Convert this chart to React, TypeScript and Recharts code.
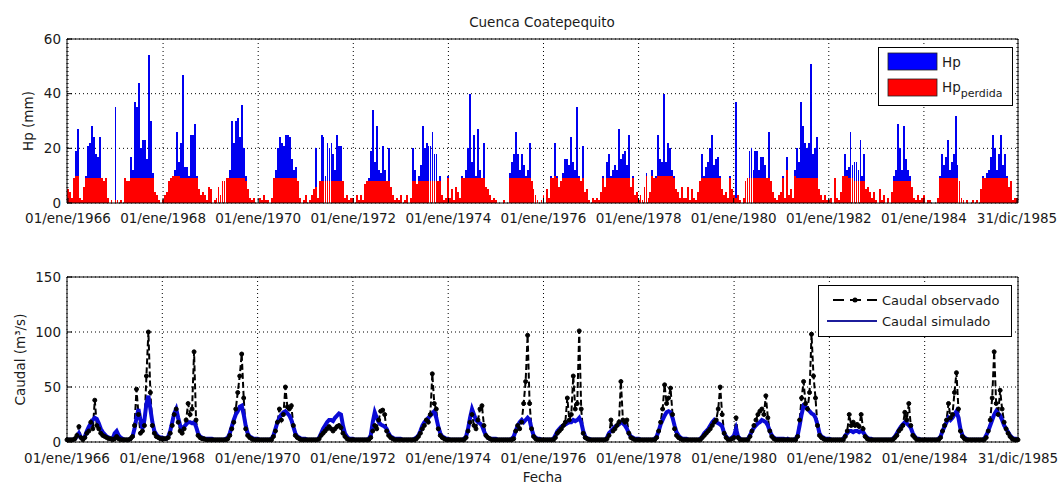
import { ComposedChart, Bar, Line, XAxis, YAxis, CartesianGrid } from "recharts";

// half-month steps, 24 per year, 1966..1985
const tickIdx = [0, 48, 96, 144, 192, 240, 288, 336, 384, 432, 479];
const tickLabels = [
  "01/ene/1966", "01/ene/1968", "01/ene/1970", "01/ene/1972", "01/ene/1974", "01/ene/1976",
  "01/ene/1978", "01/ene/1980", "01/ene/1982", "01/ene/1984", "31/dic/1985",
];
const hpTicks = [0, 20, 40, 60];
const flowTicks = [0, 50, 100, 150];

// precipitacion (mm)
const hp = [
  5, 4, 2, 9, 19, 27, 2, 1, 6, 10, 21, 22, 28, 24, 18, 17, 24, 9, 8, 9, 2, 0, 1, 0, // 1966
  35, 1, 0, 1, 0, 9, 8, 8, 17, 12, 37, 35, 44, 20, 23, 23, 16, 54, 30, 11, 4, 3, 1, 0, // 1967
  1, 3, 4, 8, 9, 10, 12, 26, 15, 22, 47, 13, 13, 10, 25, 25, 29, 10, 5, 3, 4, 3, 1, 6, // 1968
  5, 0, 1, 2, 6, 3, 8, 8, 9, 9, 12, 30, 22, 30, 31, 24, 36, 20, 10, 5, 2, 1, 2, 0, // 1969
  0, 2, 1, 3, 1, 1, 0, 2, 9, 12, 20, 24, 22, 21, 25, 25, 24, 16, 12, 13, 8, 2, 0, 1, // 1970
  3, 0, 1, 3, 5, 20, 2, 8, 25, 24, 10, 22, 20, 22, 18, 12, 25, 21, 21, 8, 2, 3, 1, 2, // 1971
  2, 0, 3, 1, 3, 1, 7, 8, 9, 19, 34, 15, 28, 12, 11, 21, 12, 8, 20, 6, 3, 1, 2, 1, // 1972
  3, 0, 1, 3, 0, 2, 20, 12, 7, 10, 14, 28, 20, 22, 21, 21, 26, 18, 18, 8, 10, 3, 1, 2, // 1973
  10, 2, 5, 1, 6, 4, 2, 10, 9, 12, 20, 40, 15, 25, 10, 27, 12, 9, 22, 6, 5, 3, 1, 2, // 1974
  1, 0, 0, 0, 1, 0, 0, 11, 15, 18, 26, 18, 12, 18, 14, 10, 12, 22, 8, 5, 3, 1, 0, 1, // 1975
  3, 0, 5, 2, 10, 9, 22, 10, 6, 8, 11, 16, 16, 14, 24, 15, 12, 35, 10, 8, 21, 4, 5, 1, // 1976
  0, 2, 1, 2, 1, 4, 10, 6, 15, 18, 10, 12, 14, 12, 27, 16, 18, 19, 14, 25, 6, 10, 3, 4, // 1977
  1, 3, 1, 6, 11, 2, 4, 12, 9, 10, 25, 16, 15, 40, 15, 22, 20, 12, 10, 5, 4, 2, 6, 2, // 1978
  2, 6, 1, 5, 2, 1, 4, 8, 18, 10, 13, 15, 20, 25, 14, 16, 17, 10, 5, 3, 4, 2, 10, 5, // 1979
  3, 37, 3, 1, 0, 2, 8, 9, 19, 20, 12, 19, 19, 12, 17, 17, 14, 9, 26, 8, 4, 2, 1, 3, // 1980
  4, 10, 2, 17, 3, 5, 2, 12, 20, 15, 37, 28, 22, 20, 22, 51, 18, 20, 24, 5, 3, 1, 3, 1, // 1981
  1, 2, 0, 9, 2, 1, 4, 10, 18, 12, 13, 26, 14, 15, 15, 12, 23, 10, 18, 5, 6, 4, 2, 4, // 1982
  1, 0, 5, 1, 3, 0, 2, 0, 4, 10, 12, 29, 20, 12, 28, 16, 12, 10, 6, 2, 1, 3, 1, 2, // 1983
  3, 0, 1, 1, 0, 0, 0, 2, 10, 18, 14, 17, 23, 12, 15, 18, 32, 14, 8, 2, 1, 0, 1, 0, // 1984
  0, 1, 0, 1, 0, 5, 10, 9, 11, 12, 17, 25, 20, 12, 18, 25, 14, 18, 10, 6, 8, 1, 2, 2, // 1985
];

// precipitacion perdida (mm)
const hpLoss = [
  5, 4, 2, 9, 10, 10, 2, 1, 6, 9, 9, 9, 9, 9, 9, 9, 9, 9, 8, 9, 2, 0, 1, 0,
  1, 1, 0, 1, 0, 9, 8, 8, 9, 9, 9, 9, 9, 9, 9, 9, 9, 9, 9, 9, 4, 3, 1, 0,
  1, 3, 4, 8, 9, 10, 10, 10, 10, 9, 9, 9, 9, 9, 9, 9, 9, 9, 5, 3, 4, 3, 1, 6,
  5, 0, 1, 2, 6, 3, 8, 8, 9, 9, 9, 9, 9, 9, 9, 9, 9, 9, 8, 5, 2, 1, 2, 0,
  0, 2, 1, 3, 1, 1, 0, 2, 9, 9, 9, 9, 9, 9, 9, 9, 9, 9, 9, 9, 8, 2, 0, 1,
  3, 0, 1, 3, 5, 6, 2, 8, 8, 8, 8, 8, 8, 8, 8, 8, 8, 8, 8, 8, 2, 3, 1, 2,
  2, 0, 3, 1, 3, 1, 7, 8, 8, 8, 8, 8, 8, 8, 8, 8, 8, 8, 8, 6, 3, 1, 2, 1,
  3, 0, 1, 3, 0, 2, 8, 8, 7, 8, 8, 8, 8, 8, 8, 8, 8, 8, 8, 8, 8, 3, 1, 2,
  9, 2, 5, 1, 6, 4, 2, 9, 9, 9, 9, 9, 9, 9, 9, 9, 9, 9, 9, 6, 5, 3, 1, 2,
  1, 0, 0, 0, 1, 0, 0, 9, 9, 9, 9, 9, 9, 9, 9, 9, 9, 9, 8, 5, 3, 1, 0, 1,
  3, 0, 5, 2, 9, 9, 10, 9, 6, 8, 9, 9, 9, 9, 9, 9, 9, 9, 9, 8, 9, 4, 5, 1,
  0, 2, 1, 2, 1, 4, 9, 6, 9, 9, 9, 9, 9, 9, 9, 9, 9, 9, 9, 9, 6, 9, 3, 4,
  1, 3, 1, 6, 10, 2, 4, 10, 9, 9, 10, 10, 10, 10, 10, 10, 10, 10, 9, 5, 4, 2, 6, 2,
  2, 6, 1, 5, 2, 1, 4, 8, 9, 9, 9, 9, 9, 9, 9, 9, 9, 9, 5, 3, 4, 2, 9, 5,
  3, 2, 3, 1, 0, 2, 8, 9, 9, 9, 9, 9, 9, 9, 9, 9, 9, 9, 9, 8, 4, 2, 1, 3,
  4, 9, 2, 12, 3, 5, 2, 10, 9, 9, 9, 9, 9, 9, 9, 9, 9, 9, 9, 5, 3, 1, 3, 1,
  1, 2, 0, 9, 2, 1, 4, 10, 10, 10, 9, 9, 9, 8, 8, 8, 8, 8, 8, 5, 6, 4, 2, 4,
  1, 0, 5, 1, 3, 0, 2, 0, 4, 8, 8, 8, 8, 8, 8, 8, 8, 8, 6, 2, 1, 3, 1, 2,
  3, 0, 1, 1, 0, 0, 0, 2, 9, 9, 9, 9, 9, 9, 9, 9, 9, 9, 8, 2, 1, 0, 1, 0,
  0, 1, 0, 1, 0, 5, 9, 9, 9, 9, 9, 9, 9, 9, 9, 9, 9, 9, 9, 6, 8, 1, 2, 2,
];

// caudal observado (m3/s)
const qObs = [
  2, 2, 2, 2, 3, 6, 14, 4, 2, 4, 8, 10, 18, 12, 38, 15, 12, 8, 6, 5, 4, 3, 3, 2,
  3, 5, 3, 2, 2, 2, 2, 2, 3, 5, 15, 48, 25, 8, 10, 15, 60, 100, 45, 15, 8, 5, 4, 3,
  3, 3, 3, 4, 8, 15, 25, 30, 18, 10, 8, 12, 20, 35, 25, 30, 82, 20, 6, 4, 3, 3, 2, 2,
  2, 2, 2, 2, 2, 2, 2, 2, 2, 3, 6, 12, 18, 30, 45, 60, 80, 40, 12, 6, 4, 3, 2, 2,
  2, 2, 2, 2, 2, 2, 2, 2, 5, 10, 18, 30, 20, 25, 50, 32, 30, 33, 15, 6, 4, 3, 2, 2,
  2, 2, 2, 2, 2, 2, 2, 3, 6, 8, 10, 12, 14, 12, 10, 12, 14, 15, 13, 8, 5, 3, 2, 2,
  2, 2, 2, 2, 2, 2, 2, 2, 2, 4, 10, 15, 12, 20, 28, 29, 25, 10, 6, 4, 3, 2, 2, 2,
  2, 2, 2, 2, 2, 2, 2, 2, 3, 5, 8, 12, 15, 20, 18, 25, 62, 35, 30, 12, 6, 4, 3, 2,
  2, 2, 2, 2, 2, 2, 2, 2, 2, 4, 10, 18, 25, 15, 12, 20, 30, 33, 15, 6, 4, 3, 2, 2,
  2, 2, 2, 2, 2, 2, 2, 2, 2, 3, 10, 15, 12, 18, 35, 55, 97, 35, 12, 5, 3, 2, 2, 2,
  2, 2, 2, 2, 2, 2, 4, 8, 10, 12, 15, 18, 40, 20, 25, 60, 30, 35, 101, 30, 8, 4, 3, 2,
  2, 2, 2, 2, 2, 2, 2, 2, 3, 6, 20, 10, 12, 15, 18, 55, 20, 18, 20, 8, 4, 3, 2, 2,
  2, 2, 2, 2, 2, 2, 2, 2, 2, 4, 10, 18, 30, 52, 35, 40, 49, 25, 12, 6, 4, 3, 2, 2,
  2, 2, 2, 2, 2, 2, 2, 2, 4, 6, 8, 10, 12, 15, 18, 20, 30, 50, 25, 8, 4, 2, 2, 3,
  4, 22, 4, 2, 2, 2, 2, 2, 5, 10, 15, 20, 25, 28, 30, 25, 42, 22, 10, 5, 3, 2, 2, 2,
  2, 2, 2, 2, 2, 2, 2, 2, 5, 20, 40, 55, 35, 30, 45, 98, 60, 40, 15, 6, 4, 3, 2, 2,
  2, 2, 2, 2, 2, 2, 2, 2, 5, 10, 25, 15, 18, 15, 16, 14, 25, 12, 5, 3, 2, 2, 2, 2,
  2, 2, 2, 2, 2, 2, 2, 2, 2, 4, 6, 10, 12, 15, 27, 20, 35, 15, 6, 4, 2, 2, 2, 2,
  2, 2, 2, 2, 2, 2, 2, 2, 4, 10, 15, 20, 35, 22, 25, 45, 63, 30, 10, 5, 3, 2, 2, 2,
  2, 2, 2, 2, 2, 2, 2, 4, 10, 20, 40, 82, 35, 25, 47, 30, 18, 12, 8, 5, 3, 2, 2, 2,
];

// caudal simulado (m3/s)
const qSim = [
  2, 2, 2, 2, 3, 5, 8, 4, 3, 5, 10, 14, 17, 20, 22, 21, 17, 12, 9, 7, 5, 4, 3, 3,
  8, 10, 6, 4, 3, 2, 2, 2, 3, 5, 12, 22, 30, 20, 12, 20, 35, 42, 30, 18, 10, 7, 5, 4,
  4, 3, 3, 5, 10, 18, 26, 30, 22, 15, 12, 14, 16, 18, 18, 17, 18, 14, 8, 5, 4, 3, 3, 3,
  3, 3, 2, 2, 2, 2, 2, 2, 3, 4, 8, 14, 20, 25, 28, 32, 33, 25, 15, 8, 5, 4, 3, 3,
  3, 2, 2, 2, 2, 2, 2, 3, 6, 12, 18, 22, 25, 27, 28, 26, 24, 20, 14, 8, 5, 4, 3, 3,
  3, 2, 2, 2, 2, 2, 2, 4, 8, 12, 15, 18, 20, 20, 19, 22, 24, 26, 25, 15, 8, 5, 3, 3,
  3, 2, 2, 2, 2, 2, 2, 2, 3, 6, 18, 27, 22, 18, 16, 15, 14, 12, 8, 5, 4, 3, 3, 3,
  3, 2, 2, 2, 2, 2, 2, 3, 4, 6, 10, 15, 18, 20, 22, 24, 26, 28, 22, 14, 8, 5, 4, 3,
  3, 2, 2, 2, 2, 2, 2, 2, 3, 5, 12, 22, 30, 25, 20, 18, 17, 15, 10, 6, 4, 3, 3, 3,
  3, 2, 2, 2, 2, 2, 2, 2, 3, 5, 10, 15, 18, 20, 18, 20, 22, 20, 12, 6, 4, 3, 3, 2,
  2, 2, 2, 2, 2, 3, 6, 10, 12, 14, 15, 16, 17, 18, 18, 20, 19, 20, 22, 18, 10, 5, 3, 3,
  2, 2, 2, 2, 2, 2, 2, 2, 4, 8, 10, 12, 14, 15, 16, 18, 17, 15, 12, 8, 5, 4, 3, 3,
  3, 2, 2, 2, 2, 2, 2, 2, 3, 5, 10, 16, 20, 24, 27, 28, 27, 22, 15, 9, 6, 4, 3, 3,
  3, 2, 2, 2, 2, 2, 2, 3, 5, 8, 10, 12, 15, 18, 20, 18, 17, 16, 14, 8, 5, 3, 3, 4,
  6, 12, 5, 3, 2, 2, 2, 3, 6, 10, 13, 15, 17, 18, 20, 19, 18, 15, 10, 6, 4, 3, 3, 3,
  3, 3, 2, 3, 2, 2, 2, 3, 6, 15, 25, 33, 32, 30, 28, 26, 25, 22, 16, 8, 5, 4, 3, 3,
  3, 2, 2, 2, 2, 2, 2, 3, 6, 8, 10, 10, 9, 10, 10, 9, 10, 9, 6, 4, 3, 3, 2, 2,
  2, 2, 2, 2, 2, 2, 2, 2, 3, 5, 8, 11, 14, 16, 18, 17, 15, 13, 8, 5, 3, 3, 2, 2,
  2, 2, 2, 2, 2, 2, 2, 3, 5, 10, 14, 18, 22, 20, 22, 25, 28, 22, 12, 6, 4, 3, 2, 2,
  2, 2, 2, 2, 2, 2, 3, 6, 10, 15, 20, 25, 28, 26, 24, 20, 15, 12, 9, 6, 4, 3, 3, 2,
];

const rows = hp.map((v, i) => ({ t: i, hp: v, loss: hpLoss[i], obs: qObs[i], sim: qSim[i] }));

const font = "DejaVu Sans";
const tickStyle = { fontSize: 13.5, fontFamily: font, fill: "#1a1a1a" };
const labelStyle = { textAnchor: "middle" as const, fontSize: 13.5, fontFamily: font, fill: "#1a1a1a" };
const fmtDate = (v: number) => tickLabels[tickIdx.indexOf(v)] ?? "";

function Overlay() {
  return (
    <svg width={1061} height={484} style={{ position: "absolute", left: 0, top: 0, pointerEvents: "none" }}>
      <text x={542} y={27} textAnchor="middle" fontFamily={font} fontSize={13.5} fill="#1a1a1a">
        Cuenca Coatepequito
      </text>
      {/* leyenda superior */}
      <rect x={878.5} y={47.5} width={134} height={58} fill="#fff" stroke="#000" />
      <rect x={888} y={53} width={49} height={17} fill="#0000ff" stroke="#222" strokeWidth={0.8} />
      <rect x={888} y={79} width={49} height={17} fill="#ff0000" stroke="#222" strokeWidth={0.8} />
      <text x={942} y={67} fontFamily={font} fontSize={13.5} fill="#1a1a1a">Hp</text>
      <text x={942} y={92} fontFamily={font} fontSize={13.5} fill="#1a1a1a">
        Hp<tspan dy={5} fontSize={11}>perdida</tspan>
      </text>
      {/* leyenda inferior */}
      <rect x={818.5} y={285.5} width={193} height={51} fill="#fff" stroke="#000" />
      <line x1={833} y1={300} x2={877} y2={300} stroke="#000" strokeWidth={2} strokeDasharray="11 6" />
      <circle cx={855} cy={300} r={2.5} fill="#000" />
      <text x={882} y={305} fontFamily={font} fontSize={13} fill="#1a1a1a">Caudal observado</text>
      <line x1={827} y1={321} x2={877} y2={321} stroke="#1c1c9c" strokeWidth={2} />
      <text x={882} y={326} fontFamily={font} fontSize={13} fill="#1a1a1a">Caudal simulado</text>
    </svg>
  );
}

export default function App() {
  return (
    <div style={{ position: "absolute", left: 0, top: 0, width: 1061, height: 484, background: "#fff" }}>
      <div style={{ position: "absolute", left: 0, top: 0 }}>
        <ComposedChart
          width={1061}
          height={230}
          data={rows}
          margin={{ top: 38, right: 42, bottom: 0, left: 23 }}
          barCategoryGap={0}
          barGap={0}
        >
          <CartesianGrid xAxisId="bottom" yAxisId="left" stroke="#000" strokeDasharray="1 3" />
          <XAxis
            xAxisId="bottom"
            dataKey="t"
            type="category"
            ticks={tickIdx}
            interval={0}
            tickFormatter={fmtDate}
            tickSize={-5}
            tickMargin={15}
            height={27}
            stroke="#000"
            tick={tickStyle}
          />
          <XAxis xAxisId="loss" dataKey="t" type="category" hide />
          <XAxis
            xAxisId="top"
            orientation="top"
            dataKey="t"
            type="category"
            ticks={tickIdx}
            interval={0}
            tick={false}
            tickSize={-5}
            height={1}
            stroke="#000"
          />
          <YAxis
            yAxisId="left"
            domain={[0, 60]}
            ticks={hpTicks}
            interval={0}
            tickSize={-5}
            tickMargin={11}
            width={44}
            stroke="#000"
            tick={tickStyle}
            label={{ value: "Hp (mm)", angle: -90, position: "insideLeft", offset: 5, style: labelStyle }}
          />
          <YAxis
            yAxisId="right"
            orientation="right"
            domain={[0, 60]}
            ticks={hpTicks}
            interval={0}
            tick={false}
            tickSize={-5}
            width={1}
            stroke="#000"
          />
          <Bar
            xAxisId="bottom"
            yAxisId="left"
            dataKey="hp"
            fill="#0000f0"
            barSize={1.9}
            shapeRendering="crispEdges"
            isAnimationActive={false}
          />
          <Bar
            xAxisId="loss"
            yAxisId="left"
            dataKey="loss"
            fill="#ff0000"
            barSize={1.9}
            shapeRendering="crispEdges"
            isAnimationActive={false}
          />
        </ComposedChart>
      </div>
      <div style={{ position: "absolute", left: 0, top: 245 }}>
        <ComposedChart width={1061} height={239} data={rows} margin={{ top: 31, right: 42, bottom: 2, left: 15 }}>
          <CartesianGrid xAxisId="bottom" yAxisId="left" stroke="#000" strokeDasharray="1 3" />
          <XAxis
            xAxisId="bottom"
            dataKey="t"
            type="number"
            domain={[0, 479]}
            ticks={tickIdx}
            interval={0}
            tickFormatter={fmtDate}
            tickSize={-5}
            tickMargin={16}
            height={40}
            stroke="#000"
            tick={tickStyle}
            label={{ value: "Fecha", position: "insideBottom", offset: 0, style: labelStyle }}
          />
          <XAxis
            xAxisId="top"
            orientation="top"
            dataKey="t"
            type="number"
            domain={[0, 479]}
            ticks={tickIdx}
            interval={0}
            tick={false}
            tickSize={-5}
            height={1}
            stroke="#000"
          />
          <YAxis
            yAxisId="left"
            domain={[0, 150]}
            ticks={flowTicks}
            interval={0}
            tickSize={-5}
            tickMargin={11}
            width={52}
            stroke="#000"
            tick={tickStyle}
            label={{ value: "Caudal (m³/s)", angle: -90, position: "insideLeft", offset: 5, style: labelStyle }}
          />
          <YAxis
            yAxisId="right"
            orientation="right"
            domain={[0, 150]}
            ticks={flowTicks}
            interval={0}
            tick={false}
            tickSize={-5}
            width={1}
            stroke="#000"
          />
          <Line
            xAxisId="bottom"
            yAxisId="left"
            dataKey="obs"
            stroke="#000"
            strokeWidth={2}
            strokeDasharray="6 3"
            dot={{ r: 2, fill: "#000", stroke: "#000", strokeWidth: 1, strokeDasharray: "none" }}
            isAnimationActive={false}
          />
          <Line
            xAxisId="bottom"
            yAxisId="left"
            dataKey="sim"
            stroke="#0a0ad6"
            strokeWidth={4}
            dot={false}
            isAnimationActive={false}
          />
        </ComposedChart>
      </div>
      <Overlay />
    </div>
  );
}
